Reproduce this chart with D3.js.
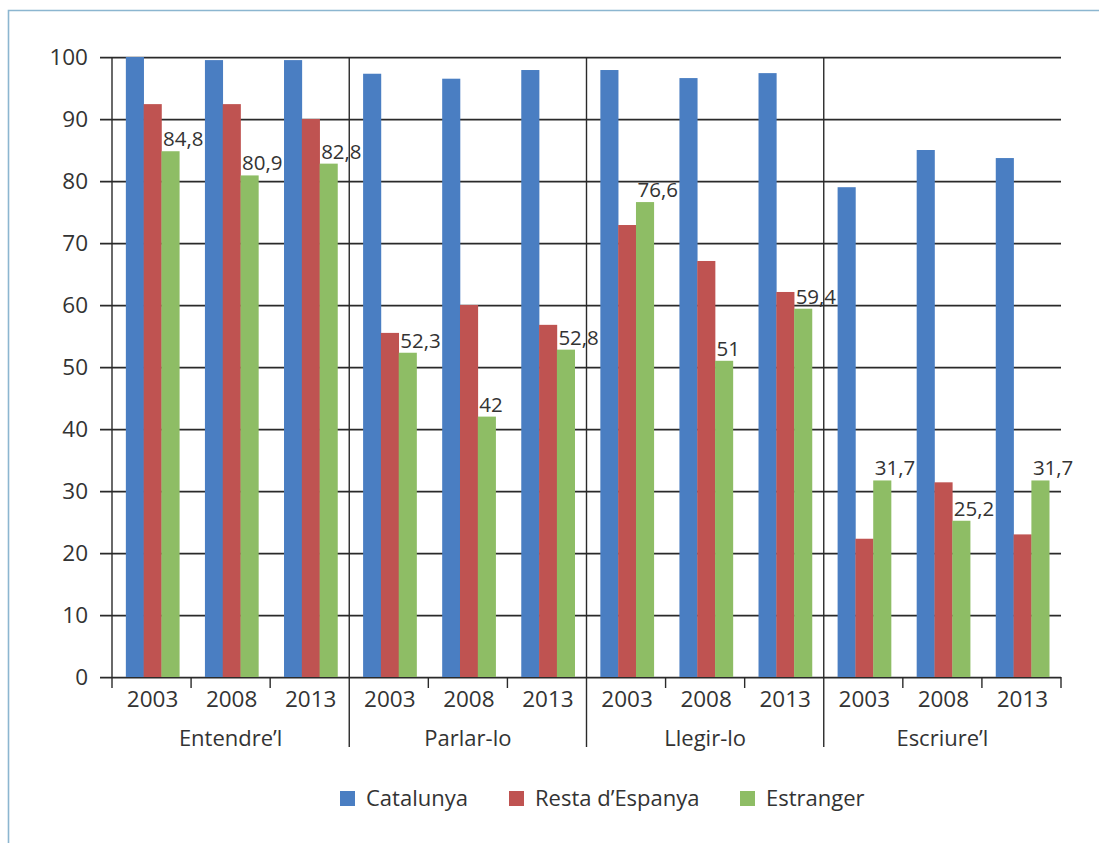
<!DOCTYPE html>
<html>
<head>
<meta charset="utf-8">
<script src="https://cdn.jsdelivr.net/npm/d3@7"></script>
<style>
  html, body { margin: 0; padding: 0; background: #fff; }
  svg { display: block; }
  text { font-family: "Open Sans", "Noto Sans", sans-serif; fill: #333; }
</style>
</head>
<body>
<svg id="chart" width="1099" height="843"></svg>
<script>
// ---- data ----
const groups = ["Entendre\u2019l", "Parlar-lo", "Llegir-lo", "Escriure\u2019l"];
const years = ["2003", "2008", "2013"];
const seriesNames = ["Catalunya", "Resta d\u2019Espanya", "Estranger"];
const catalunya = [100, 99.5, 99.5, 97.3, 96.5, 97.9, 97.9, 96.6, 97.4, 79.0, 85.0, 83.7];
const restaEspanya = [92.4, 92.4, 90.0, 55.5, 60.0, 56.8, 72.9, 67.1, 62.1, 22.3, 31.4, 23.0];
const estranger = [84.8, 80.9, 82.8, 52.3, 42.0, 52.8, 76.6, 51.0, 59.4, 31.7, 25.2, 31.7];
const estrangerLabels = ["84,8", "80,9", "82,8", "52,3", "42", "52,8", "76,6", "51", "59,4", "31,7", "25,2", "31,7"];
const yTicks = [0, 10, 20, 30, 40, 50, 60, 70, 80, 90, 100];
const colors = ["#4A7EC2", "#BF5351", "#8EBD65"];

// ---- layout ----
const svg = d3.select("#chart");
const plotLeft = 112, plotRight = 1061, plotTop = 57, plotBottom = 677;

const slots = [];
groups.forEach((g, gi) => years.forEach((yr, yi) => slots.push({ key: g + "|" + yr, group: g, year: yr, gi, yi })));
const values = [catalunya, restaEspanya, estranger];

const x0 = d3.scaleBand().domain(slots.map(d => d.key)).range([plotLeft, plotRight]).padding(0);
const x1 = d3.scaleBand().domain(seriesNames).range([0, x0.bandwidth()]).paddingInner(0).paddingOuter(0.72).align(0.54);
const y = d3.scaleLinear().domain([0, 100]).range([plotBottom, plotTop]);

// frame
svg.append("path")
  .attr("d", "M8.5,843 L8.5,10.5 L1099,10.5")
  .attr("fill", "none").attr("stroke", "#8cb6d0").attr("stroke-width", 1.6);

// gridlines (with soft shadow)
const grid = svg.append("g");
yTicks.forEach(t => {
  const yy = Math.round(y(t)) + 0.5;
  grid.append("line").attr("x1", 100).attr("x2", plotRight).attr("y1", yy + 1).attr("y2", yy + 1)
    .attr("stroke", "#b8b8b8").attr("stroke-width", 1);
  grid.append("line").attr("x1", 100).attr("x2", plotRight).attr("y1", yy).attr("y2", yy)
    .attr("stroke", "#2a2a2a").attr("stroke-width", 1.3);
});

// bars
const barG = svg.append("g");
slots.forEach((s, i) => {
  seriesNames.forEach((sn, si) => {
    const v = values[si][i];
    barG.append("rect")
      .attr("x", x0(s.key) + x1(sn))
      .attr("y", y(v))
      .attr("width", x1.bandwidth() + 0.3)
      .attr("height", y(0) - y(v))
      .attr("fill", colors[si]);
  });
});

// vertical lines: y axis, slot ticks, group separators
const vG = svg.append("g").attr("stroke", "#2a2a2a").attr("stroke-width", 1.4);
vG.append("line").attr("x1", plotLeft).attr("x2", plotLeft).attr("y1", y(100)).attr("y2", plotBottom + 11);
slots.forEach((s, i) => {
  const xb = x0(s.key) + x0.bandwidth();
  const isGroupEdge = (i % 3 === 2) && i < slots.length - 1;
  vG.append("line")
    .attr("x1", xb).attr("x2", xb)
    .attr("y1", isGroupEdge ? y(100) : plotBottom)
    .attr("y2", isGroupEdge ? 747 : plotBottom + 11);
});

// y labels
svg.append("g").selectAll("text").data(yTicks).join("text")
  .attr("x", 88).attr("y", d => y(d)).attr("dy", "0.36em")
  .attr("text-anchor", "end").attr("font-size", 22.5).text(d => d);

// year labels
svg.append("g").selectAll("text").data(slots).join("text")
  .attr("x", d => x0(d.key) + x0.bandwidth() / 2 + 1).attr("y", 707)
  .attr("text-anchor", "middle").attr("font-size", 22.5).text(d => d.year);

// group labels
svg.append("g").selectAll("text").data(groups).join("text")
  .attr("x", (g, gi) => (x0(slots[gi * 3].key) + x0(slots[gi * 3 + 2].key) + x0.bandwidth()) / 2)
  .attr("y", 746)
  .attr("text-anchor", "middle").attr("font-size", 22).text(d => d);

// data labels (Estranger)
svg.append("g").selectAll("text").data(slots).join("text")
  .attr("x", (d) => x0(d.key) + x1(seriesNames[2]) + 1.5)
  .attr("y", (d, i) => y(estranger[i]) - 5)
  .attr("font-size", 20.5).text((d, i) => estrangerLabels[i]);

// legend
const legendX = [340, 509, 740];
const lg = svg.append("g");
seriesNames.forEach((sn, si) => {
  lg.append("rect").attr("x", legendX[si]).attr("y", 791).attr("width", 15).attr("height", 15).attr("fill", colors[si]);
  lg.append("text").attr("x", legendX[si] + 26).attr("y", 806).attr("font-size", 22).text(sn);
});
</script>
</body>
</html>
